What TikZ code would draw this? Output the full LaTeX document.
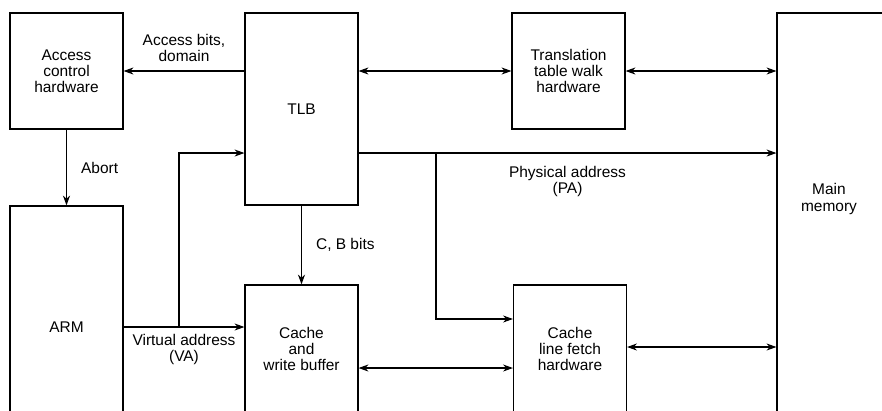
\documentclass[tikz,border=0pt]{standalone}
\usepackage{fontspec}
\setmainfont{Liberation Sans}
\usetikzlibrary{positioning,calc,arrows.meta}

\begin{document}
\begin{tikzpicture}[x=0.025cm, y=-0.025cm, line width=0.8pt,
  font=\fontsize{11}{11.4}\selectfont]

% boxes and arrows
\tikzset{blk/.style={draw, align=center, inner sep=0pt, minimum width=2.825cm},
         arr/.style={-{Stealth[length=7pt,width=5pt]}},
         dbl/.style={{Stealth[length=7pt,width=5pt]}-{Stealth[length=7pt,width=5pt]}},
         lbl/.style={align=center, inner sep=1pt}}

\useasboundingbox (0,0) rectangle (882,410);
\clip (0,0) rectangle (882,410);

% -----------------------------------------
% top row
% -----------------------------------------
\node[blk, minimum height=2.9cm] (acc) at (66.5,71) {Access\\control\\hardware};
\node[blk, minimum height=4.8cm] (tlb) at (301.5,109) {TLB};
\node[blk, minimum height=2.9cm] (ttw) at (568.5,71) {Translation\\table walk\\hardware};
\node[blk, minimum width=3.075cm, minimum height=10.175cm] (mem) at (838.5,216.5) {};
\node[lbl] (memlbl) at (829,199) {Main\\memory};

% -----------------------------------------
% bottom row (cut off by the frame)
% -----------------------------------------
\node[blk, minimum height=6.05cm] (arm) at (66.5,327) {ARM};
\node[blk, minimum height=3.2cm] (cache) at (301.5,349) {Cache\\and\\write buffer};
\node[blk, minimum height=3.2cm] (lf) at (570,349) {Cache\\line fetch\\hardware};

% branch points
\coordinate (vaj) at (179,327);
\coordinate (paj) at (436,153);

% -----------------------------------------
% connectors
% -----------------------------------------
\draw[arr] (tlb.west |- acc.east) -- (acc.east)
  node[midway,above=5pt,lbl] {Access bits,\\domain};
\draw[arr] (acc) -- (arm) node[midway,right=9pt,lbl] {Abort};
\draw[dbl] (tlb.east |- ttw.west) -- (ttw.west);
\draw[dbl] (ttw.east) -- (ttw.east -| mem.west);

\draw[arr] (arm.east) -- (arm.east -| cache.west)
  node[midway,below=4pt,lbl] {Virtual address\\(VA)};
\draw[arr] (vaj) |- ([yshift=-1.1cm]tlb.west);

\draw[arr] (tlb) -- (cache) node[midway,right=9pt,lbl] {C, B bits};

\draw[arr] ([yshift=-1.1cm]tlb.east) -- ([yshift=-1.1cm]tlb.east -| mem.west)
  node[midway,below=8pt,lbl] {Physical address\\(PA)};
\draw[arr] (paj) |- ([yshift=0.75cm]lf.west);

\draw[dbl] ([yshift=-0.475cm]cache.east) -- ([yshift=-0.475cm]lf.west);
\draw[dbl] ([yshift=0.05cm]lf.east) -- ([yshift=0.05cm]lf.east -| mem.west);
\end{tikzpicture}
\end{document}
